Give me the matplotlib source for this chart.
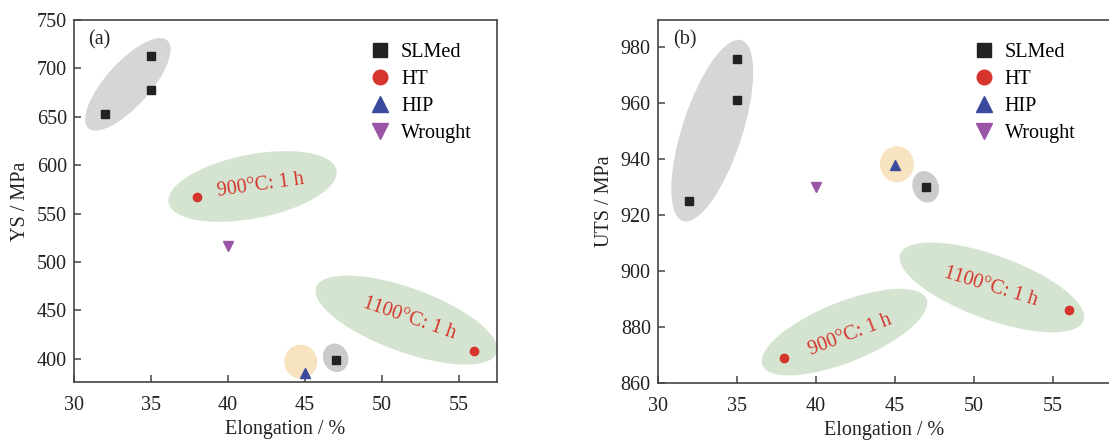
import matplotlib
matplotlib.use("Agg")
import matplotlib.pyplot as plt
import matplotlib.transforms as mtransforms
from matplotlib.patches import Ellipse

plt.rcParams["font.family"] = ["Liberation Serif", "DejaVu Serif"]
plt.rcParams["mathtext.fontset"] = "stix"

SERIES = ["SLMed", "HT", "HIP", "Wrought"]

# elongation (%) and strength (MPa)
slm_el = [32, 35, 35, 47]
slm_ys = [653, 713, 678, 399]
slm_uts = [925, 976, 961, 930]

ht_el = [38, 56]
ht_ys = [567, 408]
ht_uts = [869, 886]

hip_el = [45]
hip_ys = [385]
hip_uts = [938]

wr_el = [40]
wr_ys = [516]
wr_uts = [930]

HT_LABELS = ["900°C: 1 h", "1100°C: 1 h"]

# style
MARKERS = {"SLMed": ("s", "#222222", 5.5), "HT": ("o", "#d5352c", 6),
           "HIP": ("^", "#3b4a9c", 6.5), "Wrought": ("v", "#9a55a6", 6.5)}
GRAY = "#d6d6d6"
GRAY_DARK = "#cbcbcb"
GREEN = "#d4e4d0"
PEACH = "#f7e3c0"
AXC = "#444444"
FS = 14.5


def pix_ellipse(ax, x, y, w, h, angle, color):
    # ellipse centred on a data point, size given in pixels
    tr = mtransforms.ScaledTranslation(x, y, ax.transData)
    e = Ellipse((0, 0), w, h, angle=angle, facecolor=color, edgecolor="none",
                transform=tr, zorder=1)
    ax.add_patch(e)


def style_axes(ax):
    for side in ["left", "bottom", "top", "right"]:
        ax.spines[side].set_color(AXC)
        ax.spines[side].set_linewidth(1.2)
    ax.tick_params(direction="in", length=5, width=1.1, color=AXC,
                   labelsize=FS, labelcolor="#222222", top=False, right=False, pad=5)
    ax.tick_params(axis="x", pad=10)


fig = plt.figure(figsize=(11.09, 4.41), dpi=100)
ax1 = fig.add_axes([0.0667, 0.1338, 0.3817, 0.8209])
ax2 = fig.add_axes([0.5931, 0.1322, 0.4080, 0.8224])

panels = [
    (ax1, [slm_ys, ht_ys, hip_ys, wr_ys], "YS / MPa", (30, 57.5), (376, 750),
     [30, 35, 40, 45, 50, 55], [400, 450, 500, 550, 600, 650, 700, 750], "(a)"),
    (ax2, [slm_uts, ht_uts, hip_uts, wr_uts], "UTS / MPa", (30, 58.64), (860, 989.8),
     [30, 35, 40, 45, 50, 55], [860, 880, 900, 920, 940, 960, 980], "(b)"),
]
els = [slm_el, ht_el, hip_el, wr_el]

for ax, ys, ylabel, xlim, ylim, xt, yt, tag in panels:
    ax.set_xlim(*xlim)
    ax.set_ylim(*ylim)
    ax.set_xticks(xt)
    ax.set_yticks(yt)
    style_axes(ax)
    ax.set_xlabel("Elongation / %", fontsize=FS, color="#222222", labelpad=4)
    ax.set_ylabel(ylabel, fontsize=FS, color="#222222", labelpad=5)
    for name, xs, yv in zip(SERIES, els, ys):
        m, c, s = MARKERS[name]
        ax.plot(xs, yv, linestyle="none", marker=m, color=c, markersize=s,
                label=name, zorder=3)
    ax.text(0.034, 0.945, tag, transform=ax.transAxes, fontsize=FS,
            color="#222222", va="center", ha="left")

ax2.spines["right"].set_visible(False)

# panel (a) groupings
pix_ellipse(ax1, 33.5, 683.5, 118, 44, 48, GRAY)
pix_ellipse(ax1, 41.6, 578, 171, 64, 11, GREEN)
pix_ellipse(ax1, 51.6, 440, 192, 64, -20, GREEN)
pix_ellipse(ax1, 44.73, 397, 33, 34, 0, PEACH)
pix_ellipse(ax1, 47.0, 401, 25, 29, 20, GRAY_DARK)
ax1.text(42.16, 579, HT_LABELS[0], rotation=8, color="#d5352c", fontsize=FS,
         ha="center", va="center", rotation_mode="anchor", zorder=4)
ax1.text(51.76, 442, HT_LABELS[1], rotation=-19, color="#d5352c", fontsize=FS,
         ha="center", va="center", rotation_mode="anchor", zorder=4)

# panel (b) groupings
pix_ellipse(ax2, 33.45, 950.2, 190, 60, 72, GRAY)
pix_ellipse(ax2, 45.14, 938.2, 34, 36, 0, PEACH)
pix_ellipse(ax2, 46.96, 930.1, 26, 32, 20, GRAY_DARK)
pix_ellipse(ax2, 41.82, 878.1, 177, 60, 22, GREEN)
pix_ellipse(ax2, 51.15, 894.1, 195, 64, -20, GREEN)
ax2.text(42.2, 877.1, HT_LABELS[0], rotation=21, color="#d5352c", fontsize=FS,
         ha="center", va="center", rotation_mode="anchor", zorder=4)
ax2.text(51.1, 894.3, HT_LABELS[1], rotation=-17, color="#d5352c", fontsize=FS,
         ha="center", va="center", rotation_mode="anchor", zorder=4)

for ax in (ax1, ax2):
    ax.legend(loc="upper left", bbox_to_anchor=(0.68, 0.96), frameon=False,
              fontsize=FS, markerscale=1.75, handlelength=1.0, handletextpad=0.55,
              labelspacing=0.4, borderaxespad=0)

fig.savefig("out.png", dpi=100)
